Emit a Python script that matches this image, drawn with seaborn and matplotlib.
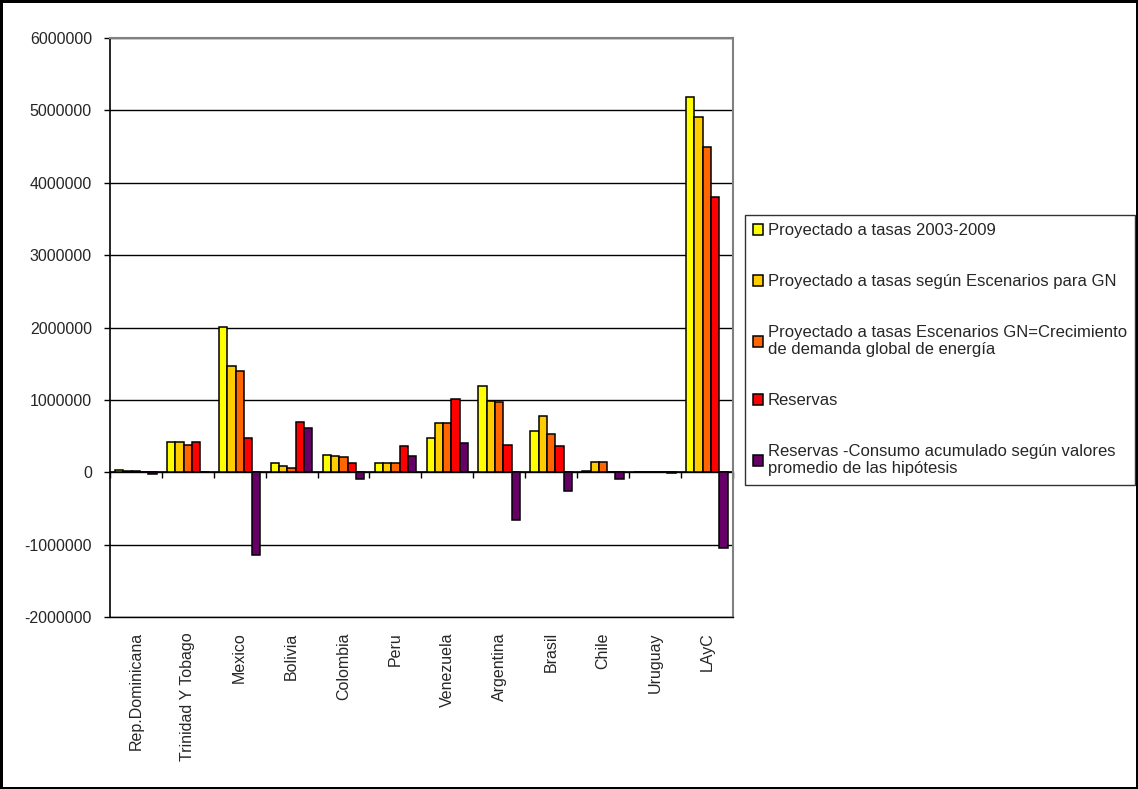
import numpy as np
import pandas as pd
import matplotlib
matplotlib.use("Agg")
import matplotlib.pyplot as plt
import seaborn as sns

# Countries / regions on the category axis
paises = ["Rep.Dominicana", "Trinidad Y Tobago", "Mexico", "Bolivia", "Colombia",
          "Peru", "Venezuela", "Argentina", "Brasil", "Chile", "Uruguay", "LAyC"]

# Series values
proy_2003_2009 = [35000, 420000, 2010000, 130000, 245000, 130000,
                  470000, 1185000, 565000, 12000, 5000, 5180000]
proy_escenarios = [15000, 415000, 1470000, 83000, 230000, 130000,
                   680000, 990000, 780000, 135000, 6000, 4905000]
proy_crec_demanda = [12000, 378000, 1400000, 65000, 205000, 130000,
                     680000, 970000, 535000, 135000, 6000, 4500000]
reservas = [3000, 415000, 480000, 700000, 130000, 360000,
            1015000, 380000, 365000, 3000, 4000, 3810000]
reservas_menos_consumo = [-30000, 8000, -1150000, 610000, -100000, 230000,
                          410000, -660000, -260000, -90000, -6000, -1050000]

series = [
    "Proyectado a tasas 2003-2009",
    "Proyectado a tasas según Escenarios para GN",
    "Proyectado a tasas Escenarios GN=Crecimiento\nde demanda global de energía",
    "Reservas",
    "Reservas -Consumo acumulado según valores\npromedio de las hipótesis",
]
valores = [proy_2003_2009, proy_escenarios, proy_crec_demanda, reservas, reservas_menos_consumo]
colores = ["#FFFF00", "#FFCC00", "#FF6600", "#FF0000", "#660066"]

yticks = [-2000000, -1000000, 0, 1000000, 2000000, 3000000, 4000000, 5000000, 6000000]

df = pd.DataFrame({
    "pais": np.tile(paises, len(series)),
    "serie": np.repeat(series, len(paises)),
    "valor": np.concatenate(valores),
})

sns.set_style("white")
plt.rcParams["font.family"] = ["Liberation Sans", "DejaVu Sans"]

fig = plt.figure(figsize=(11.38, 7.89), dpi=100)
fig.patch.set_facecolor("white")
fig.patch.set_edgecolor("black")
fig.patch.set_linewidth(2.5)

ax = fig.add_axes([110 / 1138, 1 - 617 / 789, (732.7 - 110) / 1138, (617 - 38) / 789])

sns.barplot(data=df, x="pais", y="valor", hue="serie", order=paises, hue_order=series,
            palette=colores, edgecolor="black", linewidth=1.1, width=0.8,
            saturation=1, ax=ax, zorder=3)

ax.set_xlim(-0.5, len(paises) - 0.5)
ax.set_ylim(-2000000, 6000000)
ax.set_yticks(yticks)
ax.set_yticklabels([str(v) for v in yticks], fontsize=11.5)
ax.set_xlabel("")
ax.set_ylabel("")

ax.yaxis.grid(True, color="black", linewidth=1)
ax.set_axisbelow(True)

for side in ["top", "right"]:
    ax.spines[side].set_color("#808080")
    ax.spines[side].set_linewidth(1.5)
ax.spines["left"].set_color("black")
ax.spines["left"].set_linewidth(1.2)
ax.spines["bottom"].set_color("black")
ax.spines["bottom"].set_linewidth(1)

ax.tick_params(axis="y", direction="out", length=4, width=1, color="black", pad=9, left=True)
ax.tick_params(axis="x", length=0, pad=11, labelsize=11.5)
for lbl in ax.get_xticklabels():
    lbl.set_rotation(90)
    lbl.set_va("top")
    lbl.set_ha("center")

# Category axis crossing at zero, with tick marks between categories
zero_frac = (0 - (-2000000)) / (6000000 - (-2000000))
sec = ax.secondary_xaxis(zero_frac)
sec.set_xticks(np.arange(-0.5, len(paises), 1.0))
sec.set_xticklabels([])
sec.tick_params(direction="out", length=4, width=1, color="black")
sec.spines["bottom"].set_color("black")
sec.spines["bottom"].set_linewidth(1.2)

handles, labels = ax.get_legend_handles_labels()
ax.get_legend().remove()
leg = fig.legend(handles, labels, loc="upper left",
                 bbox_to_anchor=(745 / 1138, 1 - 215 / 789), bbox_transform=fig.transFigure,
                 borderaxespad=0, frameon=True, fancybox=False, edgecolor="black",
                 fontsize=12, handlelength=0.6, handleheight=0.6, handletextpad=0.25,
                 labelspacing=2.15, borderpad=0.5)
leg.get_frame().set_linewidth(1)
for t in leg.get_texts():
    t.set_linespacing(1.2)

fig.savefig("out.png", dpi=100, facecolor=fig.get_facecolor(), edgecolor=fig.get_edgecolor())
